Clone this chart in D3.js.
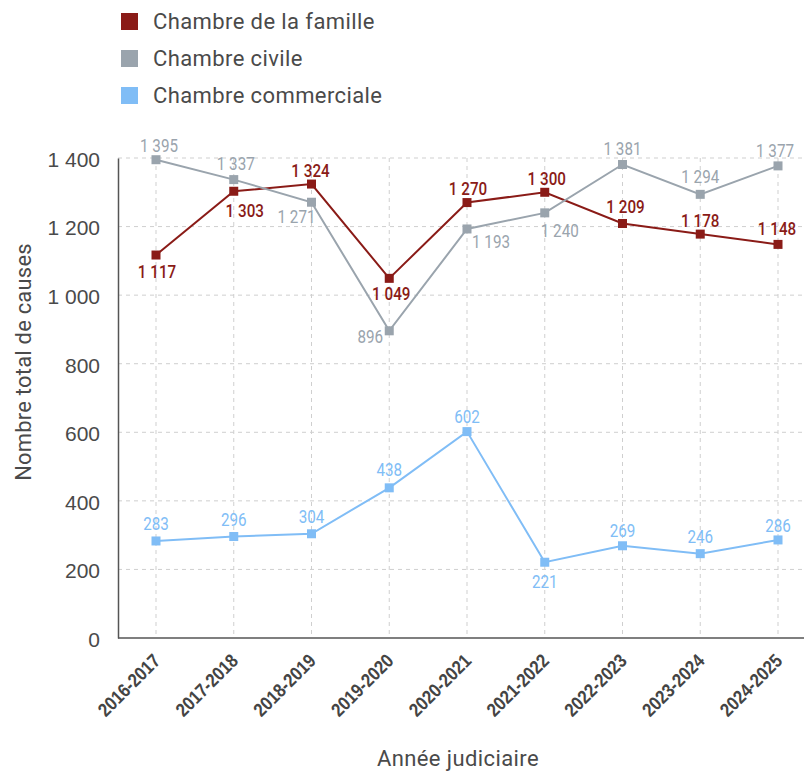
<!DOCTYPE html>
<html>
<head>
<meta charset="utf-8">
<script src="https://cdn.jsdelivr.net/npm/d3@7"></script>
<style>
  body { margin: 0; background: #fff; }
</style>
</head>
<body>
<div id="chart"></div>
<script>
var years = ["2016-2017", "2017-2018", "2018-2019", "2019-2020", "2020-2021",
             "2021-2022", "2022-2023", "2023-2024", "2024-2025"];
var famille = [1117, 1303, 1324, 1049, 1270, 1300, 1209, 1178, 1148];
var civile = [1395, 1337, 1271, 896, 1193, 1240, 1381, 1294, 1377];
var commerciale = [283, 296, 304, 438, 602, 221, 269, 246, 286];
var seriesNames = ["Chambre de la famille", "Chambre civile", "Chambre commerciale"];
var yTicks = [0, 200, 400, 600, 800, 1000, 1200, 1400];

// label placement (dx, dy of baseline) per point, to keep labels off the lines
var labelOffsets = [
  [[1, 23], [11, 26], [-1, -7], [2, 22], [1, -8], [2, -7], [3, -10], [0, -7], [-1, -9]],
  [[3, -8], [2, -10], [-15, 21], [-19, 12], [24, 19], [15, 24], [0, -10], [0, -11], [-3, -9]],
  [[0, -11], [0, -11], [0, -11], [0, -12], [0, -9], [0, 26], [0, -9], [0, -11], [0, -8]]
];

var colors = ["#8a1b17", "#9aa4ad", "#80bdf6"];
var series = [famille, civile, commerciale];

var width = 804, height = 772;
var plotLeft = 118, plotRight = 804, plotTop = 158, plotBottom = 638;
var squeeze = 0.8; // no condensed font installed, so narrow the glyphs by hand

var svg = d3.select("#chart")
            .append("svg")
            .attr("width", width)
            .attr("height", height)
            .style("font-family", "Roboto, sans-serif");

var x = d3.scalePoint().domain(years).range([156, 778]);
var y = d3.scaleLinear().domain([0, 1400]).range([plotBottom, plotTop]);

var fr = d3.formatLocale({decimal: ",", thousands: "\u00a0", grouping: [3], currency: ["", " €"]});
var fmt = fr.format(",d");

// grid
svg.append("g").selectAll("line")
    .data(yTicks.filter(d => d > 0))
    .enter().append("line")
    .attr("x1", plotLeft).attr("x2", plotRight)
    .attr("y1", d => y(d)).attr("y2", d => y(d))
    .attr("stroke", "#cfcfcf").attr("stroke-dasharray", "4,4");

svg.append("g").selectAll("line")
    .data(years)
    .enter().append("line")
    .attr("x1", d => x(d)).attr("x2", d => x(d))
    .attr("y1", plotTop).attr("y2", plotBottom)
    .attr("stroke", "#cfcfcf").attr("stroke-dasharray", "4,4");

// y axis
var yAxis = svg.append("g")
    .attr("transform", "translate(" + plotLeft + ",0)")
    .call(d3.axisLeft(y).tickValues(yTicks).tickFormat(fmt).tickSize(0).tickPadding(18));
yAxis.select(".domain").attr("stroke", "#555").attr("stroke-width", 1.5);
yAxis.selectAll("text")
    .attr("fill", "#4a4a4a")
    .style("font-size", "21px")
    .attr("dy", "0.4em");

// x axis
var xAxis = svg.append("g")
    .attr("transform", "translate(0," + plotBottom + ")")
    .call(d3.axisBottom(x).tickSize(0).tickPadding(0));
xAxis.select(".domain").remove();
xAxis.append("line")
    .attr("x1", plotLeft).attr("x2", plotRight)
    .attr("stroke", "#555").attr("stroke-width", 1.5);
xAxis.selectAll("text")
    .attr("fill", "#444")
    .attr("text-anchor", "end")
    .attr("dy", 0)
    .attr("y", 0)
    .attr("transform", "translate(5,24) rotate(-45) scale(0.87,1)")
    .style("font-weight", "bold")
    .style("font-size", "19px");

// axis titles
svg.append("text")
    .attr("transform", "translate(31,362) rotate(-90)")
    .attr("text-anchor", "middle")
    .attr("fill", "#4a4a4a")
    .style("font-size", "22px")
    .style("letter-spacing", "0.2px")
    .text("Nombre total de causes");

svg.append("text")
    .attr("x", 458).attr("y", 766)
    .attr("text-anchor", "middle")
    .attr("fill", "#4a4a4a")
    .style("font-size", "22px")
    .style("letter-spacing", "0.4px")
    .text("Année judiciaire");

// lines, markers, labels
var line = d3.line()
    .x((d, i) => x(years[i]))
    .y(d => y(d));

series.forEach(function(values, s) {
  var g = svg.append("g");
  g.append("path")
    .datum(values)
    .attr("fill", "none")
    .attr("stroke", colors[s])
    .attr("stroke-width", 2)
    .attr("d", line);

  g.selectAll("rect")
    .data(values)
    .enter().append("rect")
    .attr("x", (d, i) => x(years[i]) - 4.5)
    .attr("y", d => y(d) - 4.5)
    .attr("width", 9).attr("height", 9)
    .attr("fill", colors[s]);

  g.selectAll("text")
    .data(values)
    .enter().append("text")
    .attr("transform", (d, i) => "translate(" + (x(years[i]) + labelOffsets[s][i][0]) + "," +
                                 (y(d) + labelOffsets[s][i][1]) + ") scale(" + squeeze + ",1)")
    .attr("text-anchor", "middle")
    .attr("fill", colors[s])
    .style("font-weight", s == 0 ? 500 : 400)
    .style("font-size", "19px")
    .text(d => fmt(d));
});

// legend
var legend = svg.append("g").selectAll("g")
    .data(seriesNames)
    .enter().append("g")
    .attr("transform", (d, i) => "translate(121," + (13 + i * 37) + ")");

legend.append("rect")
    .attr("width", 17).attr("height", 17)
    .attr("fill", (d, i) => colors[i]);

legend.append("text")
    .attr("x", 32).attr("y", 16)
    .attr("fill", "#4a4a4a")
    .style("font-size", "22px")
    .style("letter-spacing", "0.4px")
    .text(d => d);
</script>
</body>
</html>
